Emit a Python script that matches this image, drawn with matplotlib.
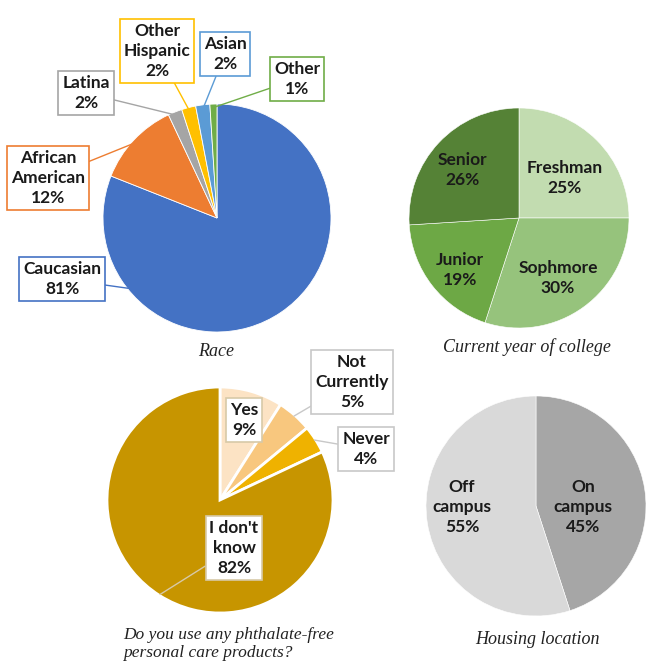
import numpy as np
import matplotlib
matplotlib.use("Agg")
import matplotlib.pyplot as plt

# ---------------- data ----------------
race_labels = ["Caucasian", "African\nAmerican", "Latina", "Other\nHispanic", "Asian", "Other"]
race_values = [81, 12, 2, 2, 2, 1]
race_colors = ["#4472C4", "#ED7D31", "#A5A5A5", "#FFC000", "#5B9BD5", "#70AD47"]

year_labels = ["Freshman", "Sophmore", "Junior", "Senior"]
year_values = [25, 30, 19, 26]
year_colors = ["#C2DCB0", "#96C37C", "#6DA845", "#558236"]

use_labels = ["Yes", "Not\nCurrently", "Never", "I don't\nknow"]
use_values = [9, 5, 4, 82]
use_colors = ["#FCE3C4", "#F8C77E", "#EFB200", "#C79500"]

house_labels = ["On\ncampus", "Off\ncampus"]
house_values = [45, 55]
house_colors = ["#A6A6A6", "#D9D9D9"]

titles = ["Race", "Current year of college",
          "Do you use any phthalate-free\npersonal care products?", "Housing location"]

# ---------------- figure ----------------
W, H = 653, 665
fig = plt.figure(figsize=(W / 100, H / 100), dpi=100)
ax = fig.add_axes([0, 0, 1, 1])
ax.set_xlim(0, W)
ax.set_ylim(0, H)
ax.set_aspect("equal")
ax.axis("off")

def Y(y):
    return H - y

LBL = dict(fontsize=12.5, fontweight="bold", family=["Lato", "DejaVu Sans"],
           ha="center", va="center", color="#1a1a1a", linespacing=1.3)
TTL = dict(fontsize=13, fontstyle="italic", family=["Liberation Serif", "DejaVu Serif"],
           color="#222222")

def fmt(lbl, v):
    return f"{lbl}\n{v}%"

def anchor(w, frac=0.97):
    t = np.deg2rad((w.theta1 + w.theta2) / 2)
    cx, cy = w.center
    return (cx + w.r * frac * np.cos(t), cy + w.r * frac * np.sin(t))

def callout(w, text, pos, ec, frac=0.97, lc=None):
    ax.annotate(text, xy=anchor(w, frac), xytext=(pos[0], Y(pos[1])),
                textcoords="data", zorder=5,
                bbox=dict(boxstyle="square,pad=0.22", fc="white", ec=ec, lw=1.2),
                arrowprops=dict(arrowstyle="-", color=lc or ec, lw=1.0,
                                shrinkA=0, shrinkB=0),
                **LBL)

# ---- Race ----
wr, _ = ax.pie(race_values, colors=race_colors, startangle=90, counterclock=False,
               center=(217, Y(218)), radius=114,
               wedgeprops=dict(edgecolor="white", linewidth=0.6), frame=True)
race_pos = [(62, 279), (48, 178), (86, 93), (157, 51), (225, 54), (297, 79)]
for w, l, v, p, c in zip(wr, race_labels, race_values, race_pos, race_colors):
    callout(w, fmt(l, v), p, c)
ax.text(216, Y(352), titles[0], ha="center", va="center", **TTL)

# ---- Year ----
wy, _ = ax.pie(year_values, colors=year_colors, startangle=90, counterclock=False,
               center=(519, Y(218)), radius=110,
               wedgeprops=dict(edgecolor="white", linewidth=0.4), frame=True)
year_pos = [(565, 178), (558, 278), (460, 270), (462, 170)]
for l, v, p in zip(year_labels, year_values, year_pos):
    ax.text(p[0], Y(p[1]), fmt(l, v), **LBL)
ax.text(527, Y(347), titles[1], ha="center", va="center", **TTL)

# ---- Phthalate-free use ----
wu, _ = ax.pie(use_values, colors=use_colors, startangle=90, counterclock=False,
               center=(220, Y(500)), radius=113,
               wedgeprops=dict(edgecolor="white", linewidth=2.0), frame=True)
use_pos = [(244, 420), (352, 382), (366, 449), (234, 548)]
use_ec = ["#D7C9A8", "#C8C8C8", "#C8C8C8", "#D7C9A8"]
use_frac = [0.93, 0.99, 0.99, 0.99]
for w, l, v, p, e, f in zip(wu, use_labels, use_values, use_pos, use_ec, use_frac):
    callout(w, fmt(l, v), p, e, frac=f)
ax.text(123, Y(644), titles[2], ha="left", va="center", linespacing=1.15,
        **{**TTL, "fontsize": 12.5})

# ---- Housing ----
wh, _ = ax.pie(house_values, colors=house_colors, startangle=90, counterclock=False,
               center=(536, Y(506)), radius=110,
               wedgeprops=dict(edgecolor="white", linewidth=0.4), frame=True)
house_pos = [(583, 507), (462, 507)]
for l, v, p in zip(house_labels, house_values, house_pos):
    ax.text(p[0], Y(p[1]), fmt(l, v), **LBL)
ax.text(537, Y(640), titles[3], ha="center", va="center", **TTL)

ax.set_xlim(0, W)
ax.set_ylim(0, H)
ax.axis("off")
fig.savefig("out.png", dpi=100, facecolor="white")
